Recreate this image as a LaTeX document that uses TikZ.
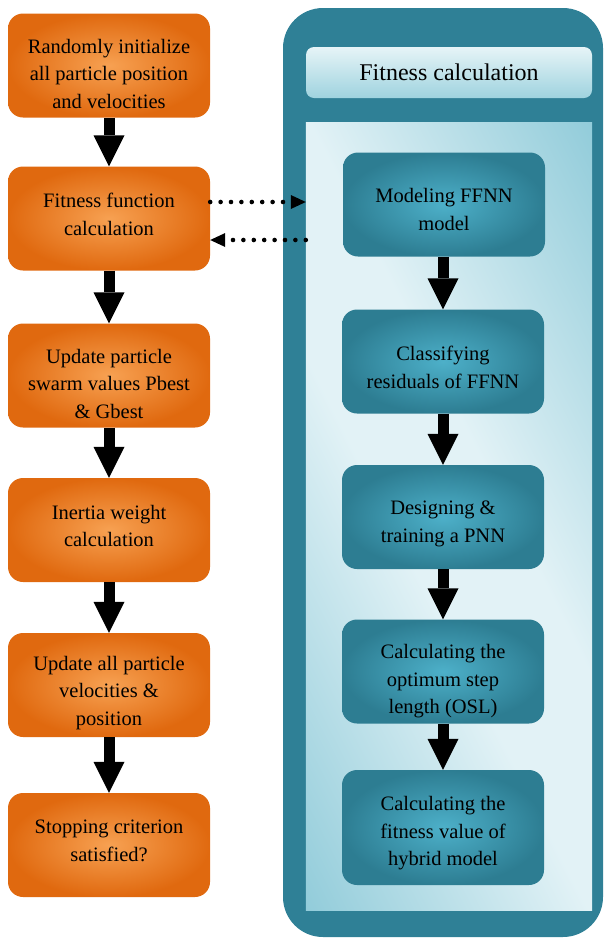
\documentclass[tikz,border=0pt]{standalone}
\usepackage{fontspec}
\setmainfont{Liberation Serif}
\usetikzlibrary{arrows.meta,calc}
\definecolor{orEdge}{HTML}{E0690F}
\definecolor{orMid}{HTML}{F7A152}
\definecolor{tlEdge}{HTML}{2D7D92}
\definecolor{tlMid}{HTML}{4DB0C9}
\definecolor{panelC}{HTML}{2F8096}
\definecolor{inLight}{HTML}{E2F2F6}
\definecolor{inDark}{HTML}{92CCDA}
\definecolor{hdLight}{HTML}{E6F4F7}
\definecolor{hdDark}{HTML}{9FD3DF}
\pgfdeclareverticalshading{innershade}{100bp}{color(0bp)=(inDark); color(33bp)=(inDark); color(47bp)=(inLight); color(53bp)=(inLight); color(67bp)=(inDark); color(100bp)=(inDark)}
\tikzset{
  txt/.style={font=\fontsize{20.5}{27.5}\selectfont, align=center, text=black, inner sep=0pt},
  obox/.style={rounded corners=15pt, minimum width=202pt, minimum height=104pt,
    inner sep=0pt, inner color=orMid, outer color=orEdge},
  tbox/.style={rounded corners=15pt, minimum width=202pt, minimum height=104pt,
    inner sep=0pt, inner color=tlMid, outer color=tlEdge},
  bigarrow/.style={line width=11pt, -{Triangle[width=31pt,length=31pt,line width=0pt]}},
  dotarrow/.style={line width=4.6pt, line cap=round, dash pattern=on 0pt off 10.4pt,
    -{Triangle[width=14pt,length=15pt,line width=0pt]}},
}
\begin{document}
\begin{tikzpicture}[x=1pt,y=-1pt]
\useasboundingbox (0,0) rectangle (605,938);
% right panel
\node[fill=panelC, rounded corners=40pt, minimum width=320pt, minimum height=929pt, inner sep=0pt] (panel) at (443,472.5) {};
\node[minimum width=286pt, minimum height=787pt, inner sep=0pt] (inner) at (449,516.5) {};
\begin{scope}
  \clip (inner.south west) rectangle (inner.north east);
  \shade[shading=innershade, shading angle=-63] ($(inner.center)+(-450,-450)$) rectangle ($(inner.center)+(450,450)$);
\end{scope}
\node[font=\fontsize{24}{28}\selectfont, text=black, rounded corners=8pt, minimum width=286pt, minimum height=51pt, inner sep=0pt,
  shading=axis, shading angle=-25, top color=hdLight, bottom color=hdDark] (hdr) at (449,72.5) {Fitness calculation};
% left column
\node[obox] (b1) at (109,65.5) {};
\node[obox] (b2) at (109,218.5) {};
\node[obox] (b3) at (109,375.5) {};
\node[obox] (b4) at (109,530) {};
\node[obox] (b5) at (109,685) {};
\node[obox] (b6) at (109,845) {};
\node[txt] (t1) at ([yshift=-8pt]b1.center) {Randomly initialize\\all particle position\\and velocities};
\node[txt] (t2) at ([yshift=4pt]b2.center) {Fitness function\\calculation};
\node[txt] (t3) at ([yshift=-8pt]b3.center) {Update particle\\swarm values Pbest\\\& Gbest};
\node[txt] (t4) at ([yshift=4pt]b4.center) {Inertia weight\\calculation};
\node[txt] (t5) at ([yshift=-8pt]b5.center) {Update all particle\\velocities \&\\position};
\node[txt] (t6) at ([yshift=4pt]b6.center) {Stopping criterion\\satisfied?};
% right column
\node[tbox] (m1) at (444,204.5) {};
\node[tbox] (m2) at (443,361.5) {};
\node[tbox] (m3) at (443,517) {};
\node[tbox] (m4) at (443,671.5) {};
\node[tbox, minimum height=115pt] (m5) at (443,827.5) {};
\node[txt] (u1) at ([yshift=-5pt]m1.center) {Modeling FFNN\\model};
\node[txt] (u2) at ([yshift=-6pt]m2.center) {Classifying\\residuals of FFNN};
\node[txt] (u3) at ([yshift=-7pt]m3.center) {Designing \&\\training a PNN};
\node[txt] (u4) at ([yshift=-10pt]m4.center) {Calculating the\\optimum step\\length (OSL)};
\node[txt] (u5) at ([yshift=-6pt]m5.center) {Calculating the\\fitness value of\\hybrid model};
% arrows
\draw[bigarrow] (b1.south) -- (b2.north);
\draw[bigarrow] (b2.south) -- (b3.north);
\draw[bigarrow] (b3.south) -- (b4.north);
\draw[bigarrow] (b4.south) -- (b5.north);
\draw[bigarrow] (b5.south) -- (b6.north);
\draw[bigarrow] (m1.south -| m2.south) -- (m2.north);
\draw[bigarrow] (m2.south) -- (m3.north);
\draw[bigarrow] (m3.south) -- (m4.north);
\draw[bigarrow] (m4.south) -- (m5.north);
\draw[dotarrow] ([yshift=16.5pt]b2.east) -- ([yshift=16.5pt]b2.east -| inner.west);
\draw[dotarrow] ([yshift=-21.5pt]b2.east -| inner.west) -- ([yshift=-21.5pt]b2.east);
\end{tikzpicture}
\end{document}
